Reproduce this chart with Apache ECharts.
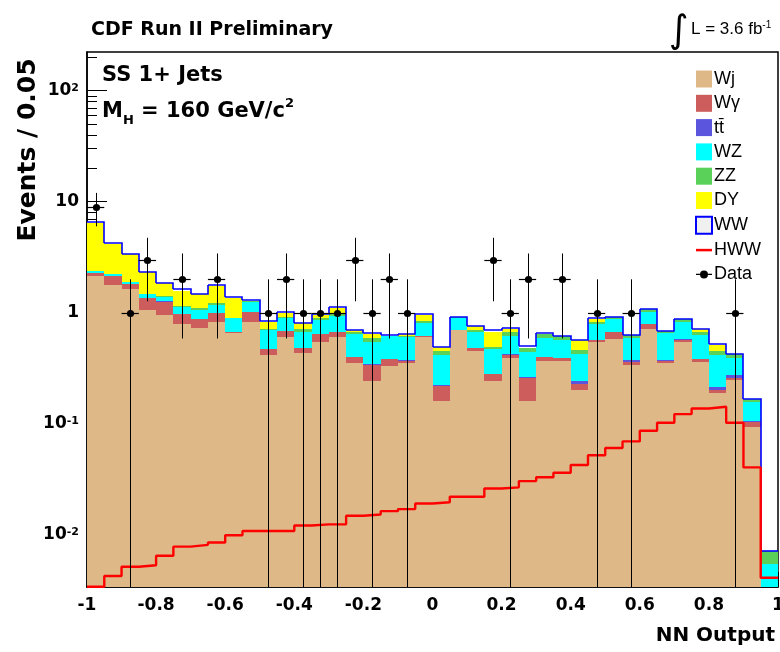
<!DOCTYPE html>
<html><head><meta charset="utf-8">
<script src="https://cdn.jsdelivr.net/npm/echarts@6/dist/echarts.min.js"></script>
<style>html,body{margin:0;padding:0;background:#fff}#c{width:780px;height:652px}</style>
</head><body><div id="c"></div>
<script>
// ---- data (NN output bins, width 0.05) ----
const binLow = [-1,-0.95,-0.9,-0.85,-0.8,-0.75,-0.7,-0.65,-0.6,-0.55,
  -0.5,-0.45,-0.4,-0.35,-0.3,-0.25,-0.2,-0.15,-0.1,-0.05,
  0,0.05,0.1,0.15,0.2,0.25,0.3,0.35,0.4,0.45,
  0.5,0.55,0.6,0.65,0.7,0.75,0.8,0.85,0.9,0.95];
const BIN_W = 0.05;
const wj = [2.15,1.77,1.63,1.06,0.95,0.79,0.73,0.83,0.65,0.83,
  0.42,0.60,0.43,0.54,0.60,0.35,0.24,0.33,0.35,0.60,
  0.16,0.70,0.45,0.24,0.39,0.16,0.37,0.37,0.20,0.54,
  0.58,0.34,0.71,0.35,0.55,0.36,0.19,0.25,0.094,0.002];
const wgamma = [0.14,0.35,0.17,0.30,0.31,0.18,0.15,0.17,0.02,0.19,
  0.05,0.08,0.05,0.10,0.07,0.05,0.10,0.05,0.02,0.02,
  0.06,0.0,0.03,0.04,0.03,0.10,0.03,0.02,0.03,0.03,
  0.09,0.02,0.08,0.02,0.02,0.02,0.01,0.01,0.01,0.0003];
const ttbar = [0.003,0.003,0.003,0.003,0.003,0.003,0.003,0.003,0.003,0.003,
  0.003,0.003,0.003,0.003,0.003,0.003,0.003,0.003,0.003,0.003,
  0.003,0.003,0.003,0.003,0.003,0.003,0.003,0.003,0.012,0.003,
  0.003,0.012,0.003,0.003,0.01,0.003,0.012,0.012,0.002,0.0];
const wz = [0.07,0.09,0.08,0.11,0.13,0.15,0.18,0.17,0.22,0.22,
  0.23,0.22,0.19,0.21,0.27,0.24,0.20,0.23,0.23,0.18,
  0.19,0.19,0.19,0.19,0.19,0.18,0.19,0.18,0.18,0.21,
  0.20,0.22,0.23,0.28,0.25,0.25,0.20,0.12,0.05,0.0032];
const zz = [0.01,0.0,0.01,0.01,0.01,0.03,0.03,0.04,0.0,0.03,
  0.01,0.02,0.04,0.04,0.05,0.03,0.05,0.01,0.02,0.04,
  0.04,0.02,0.03,0.02,0.06,0.04,0.05,0.04,0.04,0.04,
  0.05,0.04,0.06,0.03,0.05,0.04,0.04,0.03,0.01,0.0016];
const dy = [4.1,1.97,1.5,0.82,0.45,0.43,0.37,0.53,0.47,0.0,
  0.12,0.08,0.10,0.06,0.12,0.02,0.05,0.0,0.02,0.11,
  0.04,0.0,0.05,0.18,0.04,0.0,0.0,0.0,0.10,0.05,
  0.0,0.0,0.0,0.0,0.0,0.04,0.06,0.0,0.0,0.0];
const ww = [0.13,0.09,0.02,0.02,0.01,0.05,0.0,0.03,0.01,0.03,
  0.01,0.02,0.0,0.02,0.02,0.01,0.01,0.01,0.0,0.02,
  0.0,0.0,0.0,0.02,0.02,0.02,0.01,0.0,0.01,0.02,
  0.0,0.0,0.0,0.0,0.0,0.0,0.01,0.0,0.0,0.0];
const hww = [0.0034,0.00424,0.00515,0.0053,0.00647,0.0078,0.0081,0.0085,0.0099,0.0108,
  0.0108,0.0108,0.0121,0.0124,0.0124,0.0148,0.0152,0.0163,0.0170,0.0191,
  0.0196,0.0220,0.0220,0.0261,0.0267,0.0304,0.0329,0.0362,0.0424,0.0519,
  0.0604,0.0693,0.0865,0.102,0.122,0.137,0.142,0.102,0.0404,0.0041];
const dataCounts = [9,null,1,3,null,2,null,2,null,null,
  1,2,1,1,1,3,1,2,1,null,
  null,null,null,3,1,2,null,2,null,1,
  null,1,null,null,null,null,null,1,null,null];
const yMajorTicks = [0.01,0.1,1,10,100];
const yMinorTicks = [0.004,0.005,0.006,0.007,0.008,0.009,
  0.02,0.03,0.04,0.05,0.06,0.07,0.08,0.09,
  0.2,0.3,0.4,0.5,0.6,0.7,0.8,0.9,
  2,3,4,5,6,7,8,9,
  20,30,40,50,60,70,80,90,200];
const Y_MIN = 0.003379, Y_MAX = 223.2;

const layers = [
  {name:'Wj', vals:wj, color:'#deb887'},
  {name:'Wγ', vals:wgamma, color:'#cd5c5c'},
  {name:'tt̄', vals:ttbar, color:'#5a55dc'},
  {name:'WZ', vals:wz, color:'#00ffff'},
  {name:'ZZ', vals:zz, color:'#5ad25a'},
  {name:'DY', vals:dy, color:'#ffff00'},
  {name:'WW', vals:ww, color:'#ffffff'}
];
// cumulative stack
let prev = binLow.map(() => 0);
layers.forEach(L => {
  L.lo = prev.slice();
  L.hi = prev.map((p, i) => p + L.vals[i]);
  prev = L.hi;
});
const total = prev;

function px(api, x, y) { return api.coord([x, Math.min(Math.max(y, Y_MIN), Y_MAX)]); }

const series = layers.slice(0, 6).map(L => ({
  type: 'custom', name: L.name, itemStyle: {color: L.color},
  data: binLow.map((x, i) => [x, L.lo[i], L.hi[i]]),
  encode: {x: 0, y: [1, 2]},
  renderItem(params, api) {
    const x0 = api.value(0), lo = api.value(1), hi = api.value(2);
    if (!(hi > lo) || hi <= Y_MIN) return null;
    const a = px(api, x0, lo), b = px(api, x0 + BIN_W, hi);
    const X0 = Math.round(a[0]), X1 = Math.round(b[0]);
    const Y0 = Math.round(a[1]), Y1 = Math.round(b[1]);
    if (Y0 - Y1 <= 0) return null;
    return {type: 'rect', shape: {x: X0, y: Y1, width: X1 - X0, height: Y0 - Y1},
      style: {fill: L.color}};
  }
}));

// WW: white fill with blue outline of the total
const WWL = layers[6];
series.push({
  type: 'custom', name: 'WW', itemStyle: {color: '#f0f0f0', borderColor: '#0000ff', borderWidth: 2},
  data: binLow.map((x, i) => [x, WWL.lo[i], WWL.hi[i], i < binLow.length - 1 ? total[i + 1] : total[i]]),
  encode: {x: 0, y: [1, 2]},
  renderItem(params, api) {
    const x0 = api.value(0), lo = api.value(1), hi = api.value(2), nxt = api.value(3);
    const a = px(api, x0, lo), b = px(api, x0 + BIN_W, hi), n = px(api, x0 + BIN_W, nxt);
    const X0 = Math.round(a[0]), X1 = Math.round(b[0]);
    const Y0 = Math.round(a[1]), Y1 = Math.round(b[1]), YN = Math.round(n[1]);
    const ch = [];
    if (Y0 - Y1 > 0) ch.push({type: 'rect', shape: {x: X0, y: Y1, width: X1 - X0, height: Y0 - Y1}, style: {fill: '#ffffff'}});
    const last = params.dataIndex === binLow.length - 1;
    const pts = last ? [[X0, Y1], [X1, Y1]] : [[X0, Y1], [X1, Y1], [X1, YN]];
    ch.push({type: 'polyline', z2: 10, shape: {points: pts}, style: {stroke: '#0000ff', lineWidth: 1.6, fill: null}});
    return {type: 'group', children: ch};
  }
});

series.push({
  type: 'line', name: 'HWW', step: 'end', symbol: 'none', clip: true, z: 3,
  data: binLow.map((x, i) => [x, hww[i]]).concat([[binLow[binLow.length - 1] + BIN_W, hww[hww.length - 1]]]),
  lineStyle: {color: '#ff0000', width: 2.4}, itemStyle: {color: '#ff0000'}
});

series.push({
  type: 'custom', name: 'Data', z: 4, itemStyle: {color: '#000'},
  data: binLow.map((x, i) => dataCounts[i] == null ? null : [x + BIN_W / 2, dataCounts[i]]).filter(d => d),
  encode: {x: 0, y: 1},
  renderItem(params, api) {
    const x = api.value(0), v = api.value(1), e = Math.sqrt(v);
    const c = px(api, x, v), t = px(api, x, v + e), bt = px(api, x, v - e);
    const l = px(api, x - BIN_W / 2, v), r = px(api, x + BIN_W / 2, v);
    const cx = Math.round(c[0]) + 0.5, cy = Math.round(c[1]) + 0.5;
    return {type: 'group', children: [
      {type: 'line', shape: {x1: cx, y1: t[1], x2: cx, y2: bt[1]}, style: {stroke: '#000', lineWidth: 1}},
      {type: 'line', shape: {x1: l[0], y1: cy, x2: r[0], y2: cy}, style: {stroke: '#000', lineWidth: 1.2}},
      {type: 'circle', shape: {cx: cx, cy: cy, r: 3.6}, style: {fill: '#000'}}
    ]};
  }
});

const BOLD = {fontFamily: 'DejaVu Sans', fontWeight: 'bold', color: '#000'};
const chart = echarts.init(document.getElementById('c'), null, {renderer: 'canvas'});
chart.setOption({
  animation: false,
  backgroundColor: '#fff',
  grid: {left: 87, right: 2, top: 52, bottom: 65, show: true, borderColor: '#000', borderWidth: 1.5,
    backgroundColor: 'transparent', containLabel: false, outerBoundsMode: 'none'},
  xAxis: {
    type: 'value', min: -1, max: 1, interval: 0.2,
    axisLine: {show: true, onZero: false, lineStyle: {color: '#000', width: 1.5}},
    axisTick: {inside: true, length: 15, lineStyle: {color: '#000', width: 1}},
    minorTick: {show: true, splitNumber: 4, length: 8, lineStyle: {color: '#000', width: 1}},
    splitLine: {show: false},
    axisLabel: Object.assign({fontSize: 17, margin: 10}, BOLD)
  },
  yAxis: [{
    type: 'log', min: Y_MIN, max: Y_MAX, position: 'left',
    axisLine: {show: true, onZero: false, lineStyle: {color: '#000', width: 1.5}},
    axisTick: {inside: true, length: 20, customValues: yMajorTicks, lineStyle: {color: '#000', width: 1}},
    splitLine: {show: false},
    axisLabel: {
      customValues: yMajorTicks, margin: 8,
      formatter: v => {
        const e = Math.round(Math.log10(v));
        if (e === 0) return '{b|1}';
        if (e === 1) return '{b|10}';
        return '{b|10}{s|' + e + '}';
      },
      rich: {
        b: Object.assign({fontSize: 17}, BOLD),
        s: Object.assign({fontSize: 11, verticalAlign: 'top'}, BOLD)
      }
    }
  }, {
    type: 'log', min: Y_MIN, max: Y_MAX, position: 'left', offset: 0,
    axisLine: {show: false, onZero: false},
    axisTick: {show: true, inside: true, length: 10, customValues: yMinorTicks, lineStyle: {color: '#000', width: 1}},
    axisLabel: {show: false},
    splitLine: {show: false}
  }],
  legend: {
    orient: 'vertical', left: 695, top: 70, itemWidth: 16, itemHeight: 17, itemGap: 6.3,
    selectedMode: false, padding: 0,
    textStyle: {fontFamily: 'Liberation Sans', fontSize: 18, color: '#000', padding: [0, 0, 0, -3]},
    data: [
      {name: 'Wj', icon: 'rect', itemStyle: {color: '#deb887'}},
      {name: 'Wγ', icon: 'rect', itemStyle: {color: '#cd5c5c'}},
      {name: 'tt̄', icon: 'rect', itemStyle: {color: '#5a55dc'}},
      {name: 'WZ', icon: 'rect', itemStyle: {color: '#00ffff'}},
      {name: 'ZZ', icon: 'rect', itemStyle: {color: '#5ad25a'}},
      {name: 'DY', icon: 'rect', itemStyle: {color: '#ffff00'}},
      {name: 'WW', icon: 'rect', itemStyle: {color: '#f0f0f0', borderColor: '#0000ff', borderWidth: 2}},
      {name: 'HWW', icon: 'path://M0,0L16,0L16,2.5L0,2.5Z', itemStyle: {color: '#ff0000'}},
      {name: 'Data', icon: 'path://M0,-0.6L16,-0.6L16,0.6L0,0.6Z M12,0A4,4 0 1 1 4,0A4,4 0 1 1 12,0Z', itemStyle: {color: '#000'}}
    ]
  },
  graphic: [
    {type: 'text', left: 91, top: 21, style: Object.assign({text: 'CDF Run II Preliminary', font: 'bold 19px "DejaVu Sans"', fill: '#000'})},
    {type: 'text', x: 679, y: 32, style: {text: '∫', font: '38px "DejaVu Sans"', fill: '#000', align: 'center', verticalAlign: 'middle'}},
    {type: 'text', x: 691, y: 29, style: {text: '{n|L = 3.6 fb}{s|-1}', verticalAlign: 'middle', rich: {
      n: {fontFamily: 'Liberation Sans', fontSize: 17, fill: '#000'},
      s: {fontFamily: 'Liberation Sans', fontSize: 10, fill: '#000', verticalAlign: 'top'}}}},
    {type: 'text', x: 102, y: 76, style: {text: 'SS 1+ Jets', font: 'bold 21px "DejaVu Sans"', fill: '#000', verticalAlign: 'middle'}},
    {type: 'text', x: 102, y: 112, style: {text: '{n|M}{sub|H}{n| = 160 GeV/c}{sup|2}', verticalAlign: 'middle', rich: {
      n: {fontFamily: 'DejaVu Sans', fontWeight: 'bold', fontSize: 21, fill: '#000', lineHeight: 30},
      sub: {fontFamily: 'DejaVu Sans', fontWeight: 'bold', fontSize: 13, fill: '#000', verticalAlign: 'bottom', lineHeight: 30},
      sup: {fontFamily: 'DejaVu Sans', fontWeight: 'bold', fontSize: 13, fill: '#000', verticalAlign: 'top', lineHeight: 30}}}},
    {type: 'text', x: 28, y: 150, rotation: Math.PI / 2, style: {text: 'Events / 0.05', font: 'bold 25px "DejaVu Sans"', fill: '#000', align: 'center', verticalAlign: 'middle'}},
    {type: 'text', x: 775, y: 636, style: {text: 'NN Output', font: 'bold 20px "DejaVu Sans"', fill: '#000', align: 'right', verticalAlign: 'middle'}}
  ],
  series: series
});
</script></body></html>
